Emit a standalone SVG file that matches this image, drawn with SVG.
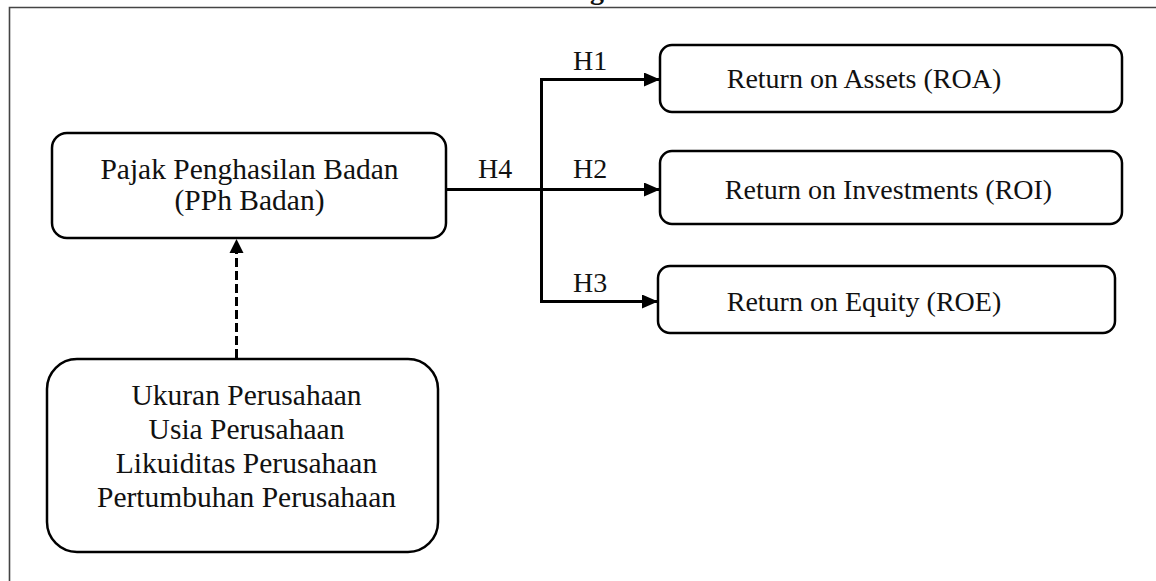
<svg xmlns="http://www.w3.org/2000/svg" width="1156" height="581" viewBox="0 0 1156 581">
<style>
  .box { fill: #ffffff; stroke: #000000; stroke-width: 2.5; }
  .t { font-family: "Liberation Serif", "Times New Roman", serif; font-size: 28px; fill: #111111; }
  .big { font-size: 29.5px; }
  .c { text-anchor: middle; }
  .edge { fill: none; stroke: #000000; stroke-width: 3; }
  .dash { fill: none; stroke: #000000; stroke-width: 3; stroke-dasharray: 9 4; }
</style>
<defs>
  <marker id="arr" markerUnits="userSpaceOnUse" markerWidth="16" markerHeight="14" refX="16" refY="7" orient="auto">
    <path d="M0,0 L16,7 L0,14 Z" fill="#000000"/>
  </marker>
</defs>
<rect width="1156" height="581" fill="#ffffff"/>
<g id="frame">
  <path d="M9.5,590 L9.5,7.5 L1170,7.5" fill="none" stroke="#444444" stroke-width="1.6"/>
  <text x="590" y="-1" class="t" font-weight="bold">g</text>
</g>
<g id="connectors">
  <path class="edge" d="M446,189.5 L541.5,189.5"/>
  <path class="edge" d="M541.5,79.5 L541.5,301.5"/>
  <path class="edge" d="M540,79.5 L660,79.5" marker-end="url(#arr)"/>
  <path class="edge" d="M541.5,189.5 L660,189.5" marker-end="url(#arr)"/>
  <path class="edge" d="M540,301.5 L658,301.5" marker-end="url(#arr)"/>
  <path class="dash" d="M236.5,358 L236.5,252"/>
  <path d="M229.5,253 L236.5,239 L243.5,253 Z" fill="#000000"/>
  <text x="573" y="70" class="t">H1</text>
  <text x="478" y="178" class="t">H4</text>
  <text x="573" y="178" class="t">H2</text>
  <text x="573" y="292" class="t">H3</text>
</g>
<g id="pph">
  <rect class="box" x="52" y="133" width="394" height="105" rx="15"/>
  <text x="249.5" y="179" class="t big c">Pajak Penghasilan Badan</text>
  <text x="249.5" y="210" class="t big c">(PPh Badan)</text>
</g>
<g id="faktor">
  <rect class="box" x="47" y="359" width="391" height="193" rx="30"/>
  <text x="246.5" y="405" class="t big c">Ukuran Perusahaan</text>
  <text x="246.5" y="439" class="t big c">Usia Perusahaan</text>
  <text x="246.5" y="473" class="t big c">Likuiditas Perusahaan</text>
  <text x="246.5" y="507" class="t big c">Pertumbuhan Perusahaan</text>
</g>
<g id="roa">
  <rect class="box" x="660" y="45" width="462" height="67" rx="12"/>
  <text x="864" y="88" class="t c">Return on Assets (ROA)</text>
</g>
<g id="roi">
  <rect class="box" x="660" y="151" width="462" height="73" rx="12"/>
  <text x="888.5" y="199" class="t c">Return on Investments (ROI)</text>
</g>
<g id="roe">
  <rect class="box" x="658" y="266" width="457" height="67" rx="12"/>
  <text x="864" y="311" class="t c">Return on Equity (ROE)</text>
</g>
</svg>
